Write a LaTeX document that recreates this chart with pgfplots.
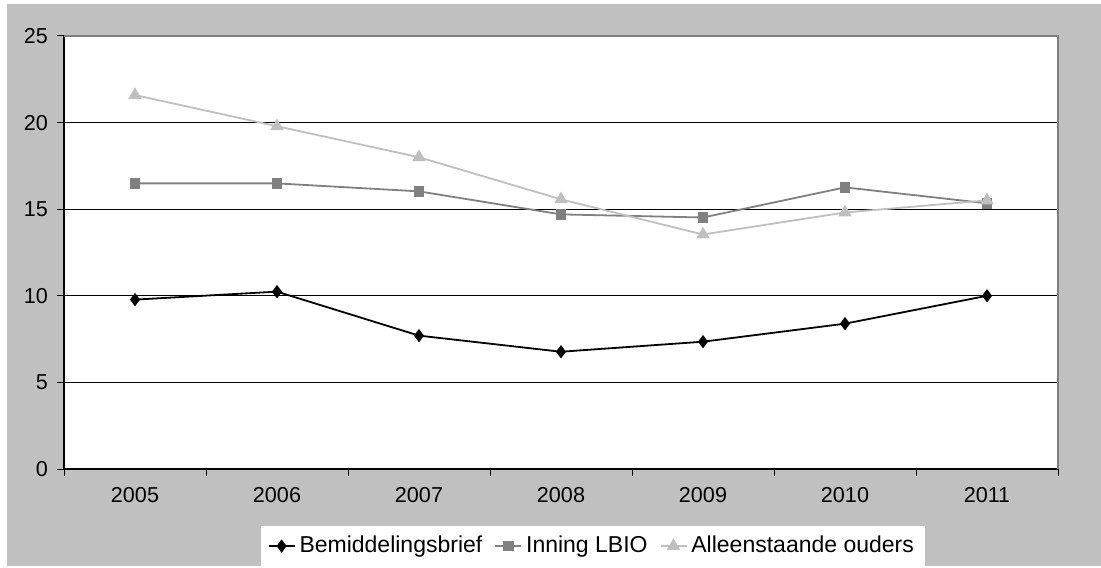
\documentclass[border=0pt]{standalone}
\usepackage{pgfplots}
\pgfplotsset{compat=1.18}
\usepackage{fontspec}
\setmainfont{Liberation Sans}
\definecolor{bgray}{HTML}{C0C0C0}
\definecolor{mgray}{HTML}{808080}
\definecolor{lgray}{HTML}{BFBFBF}
\begin{document}
\begin{tikzpicture}[x=0.5pt,y=0.5pt]
% background (1 unit = 1 px of the reference)
\fill[white] (0,0) rectangle (1101,567);
\fill[bgray] (7,1) rectangle (1101,563);
\begin{axis}[
    at={(32pt,49pt)}, anchor=south west,
    scale only axis, width=497pt, height=216.5pt,
    axis background/.style={fill=white},
    xmin=-0.5, xmax=6.5, ymin=0, ymax=25,
    xtick={0,...,6},
    xticklabels={2005,2006,2007,2008,2009,2010,2011},
    major x tick style={draw=none},
    minor xtick={-0.5,0.5,...,6.5},
    ytick={0,5,...,25},
    tick align=outside,
    major tick length=3.5pt, minor tick length=3.5pt,
    tick style={black, line width=0.5pt},
    axis x line*=bottom, axis y line*=left,
    axis line style={black, line width=0.6pt, -},
    ymajorgrids, grid style={black, line width=0.4pt},
    font=\fontsize{10.8}{13}\selectfont,
    xticklabel style={yshift=-2pt},
    yticklabel style={xshift=-1pt},
    /pgf/number format/assume math mode=true,
    legend columns=3,
    legend style={at={(0.532,-0.178)}, anchor=center, draw=none, fill=white,
        font=\fontsize{11.5}{13}\selectfont, inner xsep=3.5pt, inner ysep=3pt,
        /tikz/every even column/.append style={column sep=4pt}},
    legend image code/.code={
        \draw[#1, mark=none] (0pt,0pt) -- (13pt,0pt);
        \draw[#1, only marks] plot coordinates {(6.5pt,0pt)};
    },
    clip=false,
]
\draw[mgray, line width=0.8pt] (rel axis cs:0,1) -- (rel axis cs:1,1) -- (rel axis cs:1,0);
\addplot[black, line width=0.9pt, mark=diamond*, mark size=2.6pt, mark options={fill=black}] coordinates {
(0,9.78) (1,10.24) (2,7.70) (3,6.77) (4,7.35) (5,8.39) (6,10.0)};
\addlegendentry{Bemiddelingsbrief}
\addplot[mgray, line width=0.9pt, mark=square*, mark size=2.2pt, mark options={fill=mgray}] coordinates {
(0,16.49) (1,16.49) (2,16.03) (3,14.70) (4,14.52) (5,16.26) (6,15.34)};
\addlegendentry{Inning LBIO}
\addplot[lgray, line width=0.9pt, mark=triangle*, mark size=3pt, mark options={fill=lgray}] coordinates {
(0,21.59) (1,19.79) (2,18.00) (3,15.57) (4,13.54) (5,14.81) (6,15.51)};
\addlegendentry{Alleenstaande ouders}
\end{axis}
\end{tikzpicture}
\end{document}
